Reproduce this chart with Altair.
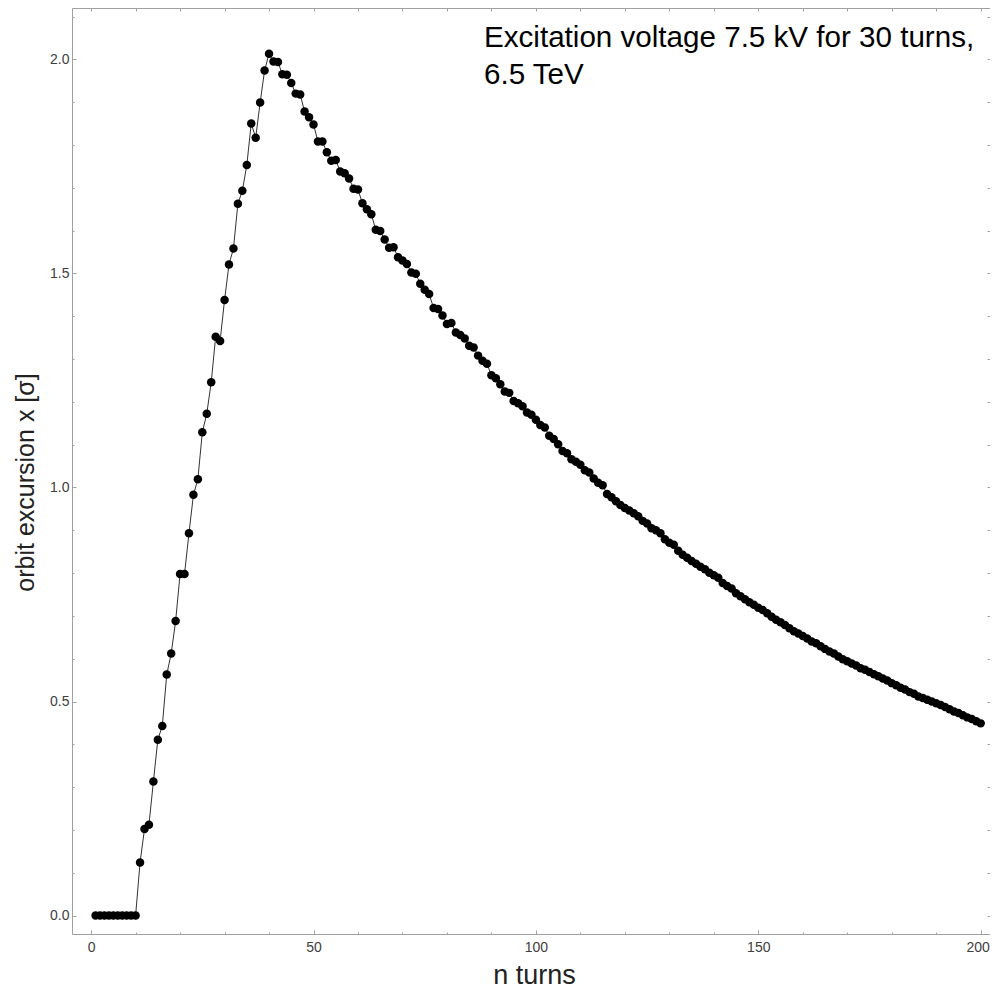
import altair as alt
import pandas as pd

turns = list(range(1, 201))
excursion = [
    0, 0, 0, 0, 0, 0, 0, 0, 0, 0,
    0.124, 0.202, 0.212, 0.313, 0.411, 0.443, 0.563, 0.612, 0.688, 0.798,
    0.798, 0.893, 0.983, 1.019, 1.129, 1.172, 1.246, 1.352, 1.342, 1.438,
    1.521, 1.558, 1.663, 1.693, 1.753, 1.850, 1.817, 1.899, 1.974, 2.013,
    1.995, 1.994, 1.965, 1.964, 1.945, 1.920, 1.918, 1.878, 1.865, 1.848,
    1.808, 1.808, 1.783, 1.763, 1.765, 1.738, 1.734, 1.722, 1.698, 1.696,
    1.664, 1.650, 1.638, 1.602, 1.599, 1.579, 1.560, 1.561, 1.538, 1.530,
    1.522, 1.502, 1.499, 1.476, 1.462, 1.452, 1.419, 1.417, 1.402, 1.382,
    1.384, 1.362, 1.356, 1.348, 1.331, 1.327, 1.308, 1.296, 1.289, 1.262,
    1.255, 1.241, 1.224, 1.221, 1.202, 1.197, 1.190, 1.175, 1.170, 1.158,
    1.146, 1.140, 1.121, 1.113, 1.101, 1.085, 1.080, 1.066, 1.060, 1.053,
    1.040, 1.035, 1.021, 1.011, 1.005, 0.985, 0.977, 0.968, 0.959, 0.952,
    0.946, 0.940, 0.933, 0.922, 0.916, 0.905, 0.900, 0.893, 0.879, 0.871,
    0.866, 0.852, 0.843, 0.836, 0.828, 0.822, 0.815, 0.809, 0.801, 0.795,
    0.789, 0.777, 0.770, 0.764, 0.753, 0.746, 0.739, 0.732, 0.726, 0.719,
    0.714, 0.706, 0.698, 0.691, 0.685, 0.679, 0.671, 0.664, 0.659, 0.653,
    0.647, 0.640, 0.636, 0.629, 0.623, 0.617, 0.612, 0.605, 0.599, 0.594,
    0.589, 0.584, 0.578, 0.574, 0.569, 0.564, 0.559, 0.554, 0.549, 0.543,
    0.538, 0.532, 0.528, 0.522, 0.518, 0.512, 0.508, 0.504, 0.500, 0.496,
    0.492, 0.487, 0.482, 0.477, 0.473, 0.468, 0.463, 0.459, 0.454, 0.449,
]

x_major = [0, 50, 100, 150, 200]
x_minor = list(range(0, 201, 10))
y_major = [0.0, 0.5, 1.0, 1.5, 2.0]
y_minor = [i / 10 for i in range(0, 22)]
annotation = ["Excitation voltage 7.5 kV for 30 turns,", "6.5 TeV"]

df = pd.DataFrame({"n": turns, "x": excursion})

FRAME = "#a0a0a0"
FONT = "Liberation Sans"
W, H = 918, 926
x_scale = alt.Scale(domain=[-4.3, 202.1], nice=False, zero=False)
y_scale = alt.Scale(domain=[-0.043, 2.12], nice=False, zero=False)


def xaxis(values, orient, size, labels=False, title=None):
    kw = dict(values=values, orient=orient, offset=-size, tickSize=size,
              tickColor=FRAME, domain=False, grid=False, labels=labels)
    if labels:
        kw.update(labelFontSize=14, labelPadding=6, labelColor="#404040",
                  labelFont=FONT,
                  labelOffset=alt.ConditionalAxisNumber(
                      condition={"test": "datum.value == 200", "value": -3},
                      value=0))
    if title:
        kw.update(title=title, titleFontSize=27, titleFont=FONT,
                  titleFontWeight="normal", titleColor="#222222",
                  titleX=462, titleY=53, titleBaseline="alphabetic",
                  titleAlign="center", titleAnchor="middle")
    else:
        kw.update(title=None)
    return alt.Axis(**kw)


def yaxis(values, orient, size, labels=False, title=None):
    kw = dict(values=values, orient=orient, offset=-size, tickSize=size,
              tickColor=FRAME, domain=False, grid=False, labels=labels)
    if labels:
        kw.update(labelFontSize=14, labelPadding=3, labelColor="#404040",
                  labelFont=FONT, format=".1f")
    if title:
        kw.update(title=title, titleFontSize=25, titleFont=FONT,
                  titleFontWeight="normal", titleColor="#222222",
                  titleX=-51, titleY=474, titleAngle=270,
                  titleBaseline="middle", titleAlign="center",
                  titleAnchor="middle")
    else:
        kw.update(title=None)
    return alt.Axis(**kw)


base = alt.Chart(df)

line = base.mark_line(color="#333333", strokeWidth=1).encode(
    x=alt.X("n:Q", scale=x_scale, axis=xaxis(x_major, "bottom", 4, True, "n turns")),
    y=alt.Y("x:Q", scale=y_scale, axis=yaxis(y_major, "left", 4, True, "orbit excursion x [σ]")),
)

pts = base.mark_circle(size=72, color="black", opacity=1).encode(
    x=alt.X("n:Q", scale=x_scale, axis=xaxis(x_minor, "bottom", 2)),
    y=alt.Y("x:Q", scale=y_scale, axis=yaxis(y_minor, "left", 2)),
)

opp = base.mark_point(opacity=0).encode(
    x=alt.X("n:Q", scale=x_scale, axis=xaxis(x_minor, "top", 3)),
    y=alt.Y("x:Q", scale=y_scale, axis=yaxis(y_minor, "right", 3)),
)

txt = alt.Chart(pd.DataFrame({"t": [annotation]})).mark_text(
    align="left", baseline="middle", fontSize=29.6, font=FONT, color="black",
    lineHeight=37,
).encode(text="t", x=alt.value(412), y=alt.value(30))

chart = alt.layer(line, pts, opp, txt).resolve_axis(
    x="independent", y="independent"
).properties(
    width=W, height=H,
    autosize=alt.AutoSizeParams(type="none"),
    padding={"left": 64, "top": 0, "right": 0, "bottom": 54},
).configure_view(stroke=FRAME, strokeWidth=1)

chart.save("out.html", embed_options={"renderer": "svg", "actions": False})
